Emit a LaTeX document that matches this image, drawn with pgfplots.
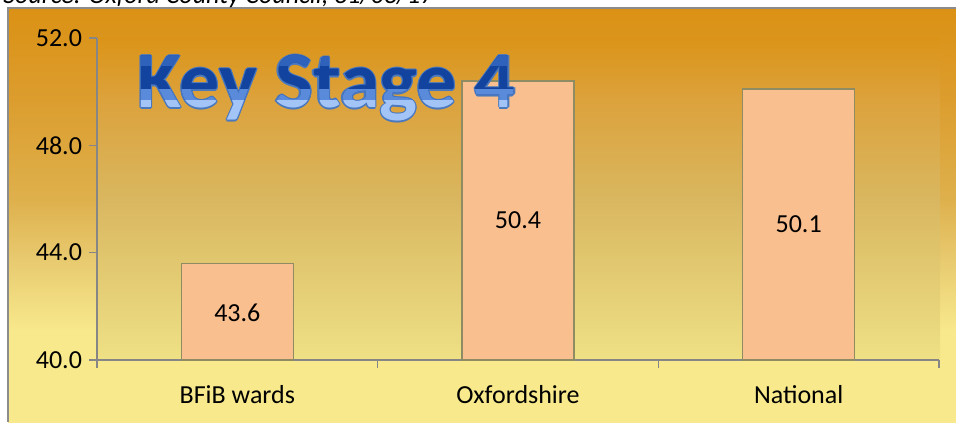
\documentclass[border=0pt]{standalone}
\usepackage{fontspec}
\setmainfont{Carlito}
\usepackage{pgfplots}
\pgfplotsset{compat=1.18}
\definecolor{axgray}{HTML}{868686}
\definecolor{framegray}{HTML}{8C8C8C}
\definecolor{barfill}{HTML}{F9BF8F}
\definecolor{bardraw}{HTML}{8F8B62}
\definecolor{cy}{HTML}{F8E98C}
\definecolor{cm1}{HTML}{E9CC72}
\definecolor{cm2}{HTML}{DEB04C}
\definecolor{cm3}{HTML}{DC9D2E}
\definecolor{co}{HTML}{DB9114}
\definecolor{p1}{HTML}{EFE185}
\definecolor{p2}{HTML}{E6D178}
\definecolor{p3}{HTML}{D9B760}
\definecolor{p4}{HTML}{DCA23C}
\definecolor{p5}{HTML}{DB9418}
\definecolor{toutline}{HTML}{4C79BC}
\definecolor{tmid}{HTML}{12449F}
\definecolor{ttop}{HTML}{2F62BA}
\definecolor{tlow}{HTML}{5A8ADA}
\definecolor{tlight}{HTML}{A2C4F6}
\pgfdeclareverticalshading{chartbg}{100bp}{color(0bp)=(cy); color(25bp)=(cy); color(36bp)=(cy); color(44bp)=(cm1); color(52bp)=(cm2); color(64bp)=(cm3); color(75bp)=(co); color(100bp)=(co)}
\pgfdeclareverticalshading{plotbg}{100bp}{color(0bp)=(p1); color(25bp)=(p1); color(34.3bp)=(p2); color(49.8bp)=(p3); color(65.4bp)=(p4); color(75bp)=(p5); color(100bp)=(p5)}
\newcommand{\titletext}{\fontsize{40}{46}\selectfont\bfseries Key Stage 4}
\newcommand{\lblfont}{\fontsize{13}{15}\selectfont}
\begin{document}
\begin{tikzpicture}
\begin{scope}[x=0.5pt,y=0.5pt]
\useasboundingbox (0,0) rectangle (956,422);
\fill[white] (0,0) rectangle (956,422);
\shade[shading=chartbg] (8,0) rectangle (956,414);
\draw[framegray, line width=0.6pt] (8,0) -- (8,414) -- (956,414);
\shade[shading=plotbg] (97,62) rectangle (940,384);
\node[anchor=base west, inner sep=0, font=\lblfont\itshape] at (3,418) {Source: Oxford County Council, 31/03/17};
\end{scope}
\begin{axis}[
  at={(48.5pt,31pt)}, anchor=south west,
  scale only axis, width=421pt, height=161pt,
  xmin=-0.5, xmax=2.5, ymin=40, ymax=52,
  axis lines*=left,
  axis line style={-, draw=axgray, line width=0.6pt},
  xtick={0,1,2}, xticklabels={BFiB wards, Oxfordshire, National},
  major x tick style={draw=none},
  minor xtick={-0.5,0.5,1.5,2.5},
  minor x tick style={draw=axgray, line width=0.6pt},
  ytick={40,44,48,52},
  yticklabels={40.0,44.0,48.0,52.0},
  y tick style={draw=axgray, line width=0.6pt},
  tick align=outside, major tick length=4pt, minor tick length=4pt,
  /pgf/number format/assume math mode=true,
  tick label style={font=\lblfont, text=black},
  xticklabel style={yshift=-5pt},
]
\addplot[ybar, bar width=56pt, fill=barfill, draw=bardraw, line width=0.8pt]
  coordinates {(0,43.6) (1,50.4) (2,50.1)};
\addplot[draw=none, forget plot, point meta=explicit,
  nodes near coords={\pgfmathprintnumber[fixed,fixed zerofill,precision=1]{\pgfplotspointmeta}},
  every node near coord/.style={anchor=center, font=\lblfont, text=black}]
  coordinates {(0,41.75)[43.6] (1,45.2)[50.4] (2,45.05)[50.1]};
\end{axis}
\begin{scope}[x=0.5pt,y=0.5pt]
\foreach \dx/\dy in {-1.2/0,1.2/0,0/-1.2,0/1.2,-0.9/-0.9,0.9/0.9,-0.9/0.9,0.9/-0.9}{
  \node[anchor=base west, inner sep=0, text=toutline] at (137+\dx,314+\dy) {\titletext};
}
\node[anchor=base west, inner sep=0, text=tmid] at (137,314) {\titletext};
\begin{scope}
\clip (0,356) rectangle (956,422);
\node[anchor=base west, inner sep=0, text=ttop] at (137,314) {\titletext};
\end{scope}
\begin{scope}
\clip (0,0) rectangle (956,332);
\node[anchor=base west, inner sep=0, text=tlow] at (137,314) {\titletext};
\end{scope}
\begin{scope}
\clip (0,0) rectangle (956,321);
\node[anchor=base west, inner sep=0, text=tlight] at (137,314) {\titletext};
\end{scope}
\end{scope}
\end{tikzpicture}
\end{document}
